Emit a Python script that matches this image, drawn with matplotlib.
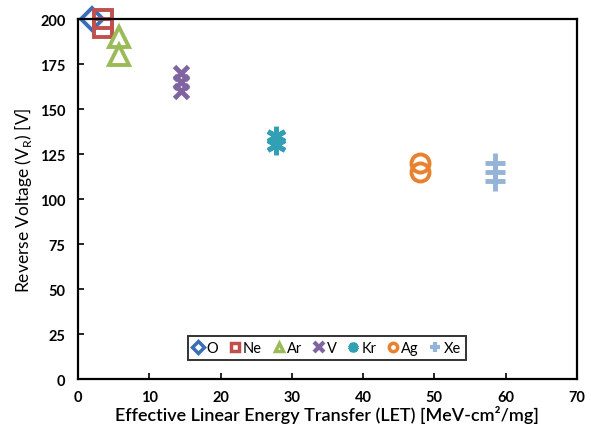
import matplotlib
matplotlib.use("Agg")
import matplotlib.pyplot as plt

plt.rcParams["font.family"] = ["Lato", "DejaVu Sans"]
plt.rcParams["mathtext.fontset"] = "custom"
plt.rcParams["mathtext.rm"] = "Lato"

# ion species, LET [MeV-cm2/mg] and reverse voltage [V]
ions = ["O", "Ne", "Ar", "V", "Kr", "Ag", "Xe"]
let_values = [2.0, 3.5, 5.7, 14.5, 27.8, 48.0, 58.5]
voltages = [
    [200],
    [200, 195],
    [190, 180],
    [170, 165, 160],
    [135, 130],
    [120, 115],
    [120, 115, 110],
]

colors = ["#3a6fb7", "#c0504d", "#9bbb59", "#8064a2", "#31a0b5", "#e8822e", "#95b3d7"]
markers = ["D", "s", "^", "x", (6, 2, 0), "o", "+"]
sizes = [11, 13, 14, 10, 14, 13, 14]
open_markers = ["D", "s", "^", "o"]

x_ticks = [0, 10, 20, 30, 40, 50, 60, 70]
y_ticks = [0, 25, 50, 75, 100, 125, 150, 175, 200]

fig = plt.figure(figsize=(5.91, 4.27), dpi=100)
ax = fig.add_axes([0.132, 0.110, 0.844, 0.843])

handles = []
for name, let, vr, c, m, s in zip(ions, let_values, voltages, colors, markers, sizes):
    xs = [let] * len(vr)
    if m in open_markers:
        ax.plot(xs, vr, linestyle="none", marker=m, ms=s, mew=2.8,
                mfc="none", mec=c, clip_on=False)
        h, = ax.plot([], [], linestyle="none", marker=m, ms=6, mew=2.5,
                     mfc="white", mec=c, label=name)
    else:
        ax.plot(xs, vr, linestyle="none", marker=m, ms=s, mew=3.5,
                color=c, clip_on=False)
        h, = ax.plot([], [], linestyle="none", marker=m, ms=7, mew=3,
                     color=c, label=name)
    handles.append(h)

ax.set_xlim(0, 70)
ax.set_ylim(0, 200)
ax.set_xticks(x_ticks)
ax.set_yticks(y_ticks)
ax.tick_params(direction="in", length=4, width=1.2, labelsize=10.5)
ax.tick_params(axis="x", pad=8)
ax.tick_params(axis="y", pad=9)
for lab in ax.get_xticklabels() + ax.get_yticklabels():
    lab.set_fontweight("bold")
for sp in ax.spines.values():
    sp.set_linewidth(1.6)
    sp.set_color("black")

ax.set_xlabel("Effective Linear Energy Transfer (LET) [MeV-cm²/mg]",
              fontsize=13, fontweight="semibold", labelpad=0.5)
ax.set_ylabel(r"Reverse Voltage (V$_\mathregular{R}$) [V]", fontsize=12.5, labelpad=4)

leg = ax.legend(handles=handles, loc="center", bbox_to_anchor=(0.499, 0.086),
                ncol=7, fontsize=10.5, frameon=True, fancybox=False,
                edgecolor="black", handlelength=0.7, handletextpad=0.2,
                columnspacing=0.8, borderpad=0.35, borderaxespad=0)
leg.get_frame().set_linewidth(1.4)

fig.savefig("out.png", dpi=100)
